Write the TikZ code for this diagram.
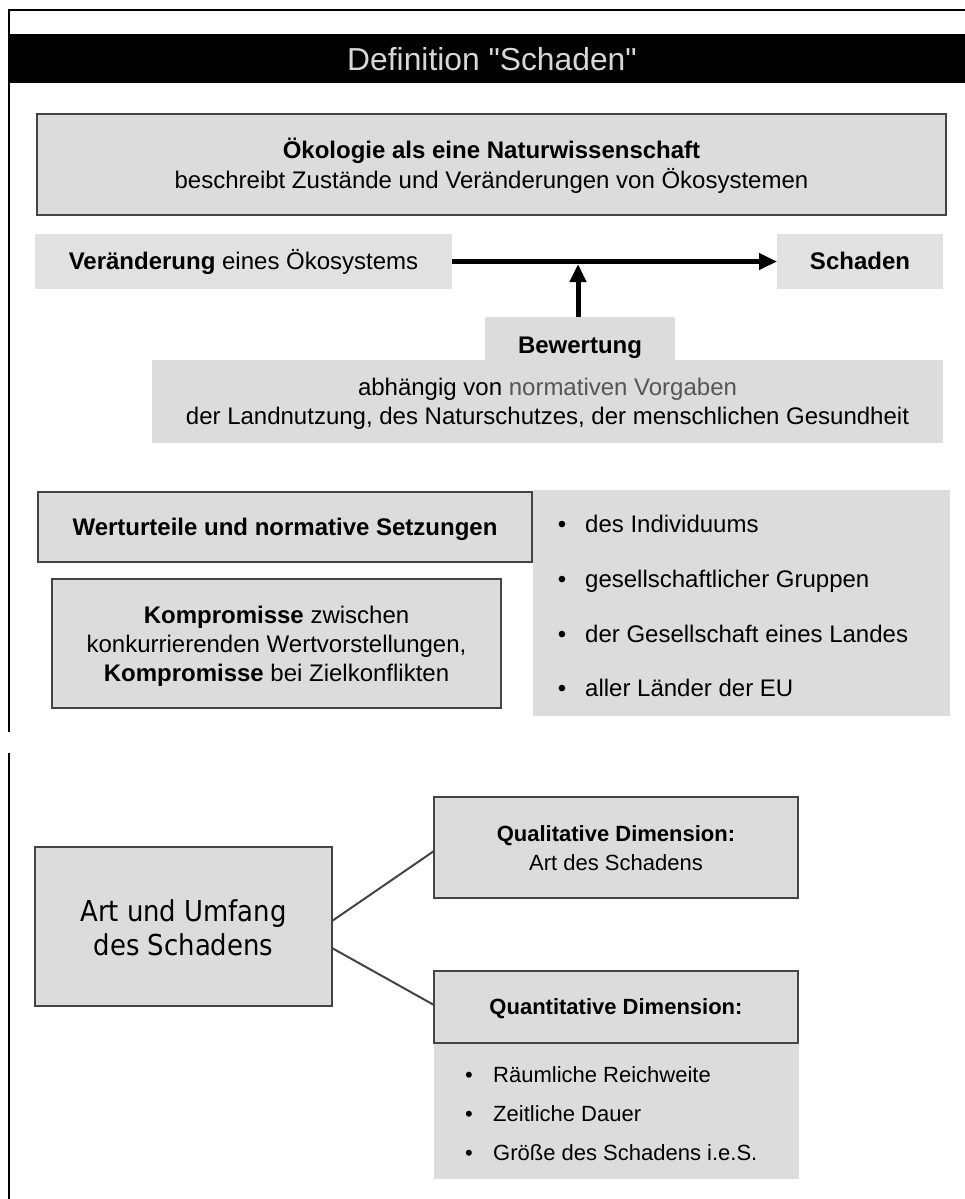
\documentclass[tikz,border=0pt]{standalone}
\usepackage{fontspec}
\setmainfont{Liberation Sans}
\newfontfamily\titlefont{Liberation Sans}[Ligatures=TeXOff]
\newfontfamily\artfont[FakeStretch=0.9]{DejaVu Sans}
\usetikzlibrary{arrows.meta}
\definecolor{boxfill}{HTML}{DCDCDC}
\definecolor{lightfill}{HTML}{E1E1E1}
\definecolor{boxline}{HTML}{444444}
\definecolor{titlegray}{HTML}{D8D8D8}
\definecolor{normgray}{HTML}{555555}

\begin{document}
\begin{tikzpicture}[x=1pt,y=-1pt,
  sized/.style 2 args={minimum width=#1pt, minimum height=#2pt, anchor=north west},
  framebox/.style={draw=boxline, line width=2.5pt, fill=boxfill, inner sep=0pt, outer sep=0pt},
  plainbox/.style={fill=boxfill, inner sep=0pt, outer sep=0pt},
  lightbox/.style={fill=lightfill, inner sep=0pt, outer sep=0pt},
  txt/.style={anchor=base, inner sep=0pt, font=\fontsize{24}{29}\selectfont},
  ltxt/.style={anchor=base west, inner sep=0pt, font=\fontsize{24}{29}\selectfont},
  stxt/.style={anchor=base, inner sep=0pt, font=\fontsize{22}{27}\selectfont},
  sltxt/.style={anchor=base west, inner sep=0pt, font=\fontsize{22}{27}\selectfont},
  arttxt/.style={anchor=base, inner sep=0pt, font=\artfont\fontsize{28.8}{34}\selectfont},
  titletxt/.style={anchor=base, inner sep=0pt, text=titlegray, font=\titlefont\fontsize{31.8}{38}\selectfont},
  bigarrow/.style={line width=5pt, -{Triangle[length=18pt, width=16pt]}},
  conn/.style={draw=boxline, line width=2pt},
  frameline/.style={draw=black, line width=2pt}
]
\path[use as bounding box] (0,0) rectangle (965,1199);

% outer frame (top edge and broken left edge)
\coordinate (ftr) at (965,10);
\coordinate (ftl) at (9,10);
\coordinate (fbreakA) at (9,732);
\coordinate (fbreakB) at (9,753);
\coordinate (fbot) at (9,1199);
\draw[frameline] (ftr) -- (ftl) -- (fbreakA);
\draw[frameline] (fbreakB) -- (fbot);

% title band
\node[fill=black, inner sep=0pt, outer sep=0pt, sized={956}{49}] (band) at (9,34) {};
\node[titletxt] (title) at (492,70.5) {Definition "Schaden"};

% ecology box
\node[framebox, sized={909}{101}] (oeko) at (37,114) {};
\node[txt] (oekoA) at (491.5,158.5) {\textbf{Ökologie als eine Naturwissenschaft}};
\node[txt] (oekoB) at (491.5,188) {beschreibt Zustände und Veränderungen von Ökosystemen};

% change -> damage
\node[lightbox, sized={417}{55}] (vera) at (35,234) {};
\node[txt] (veraT) at (243.5,269) {\textbf{Veränderung} eines Ökosystems};
\node[lightbox, sized={166}{55}] (schaden) at (777,234) {};
\node[txt] (schadenT) at (860,269) {\textbf{Schaden}};
\draw[bigarrow] (vera.east) -- (schaden.west);

% assessment
\node[plainbox, sized={190}{44}] (bewtab) at (485,317) {};
\node[plainbox, sized={791}{83}] (abh) at (152,360) {};
\node[txt] (bewT) at (580,353) {\textbf{Bewertung}};
\node[txt] (abhA) at (547.5,395) {abhängig von {\color{normgray}normativen Vorgaben}};
\node[txt] (abhB) at (547.5,424) {der Landnutzung, des Naturschutzes, der menschlichen Gesundheit};
\coordinate (joint) at (578,264);
\draw[bigarrow] (bewtab.north -| joint) -- (joint);

% value judgements
\node[plainbox, sized={417}{226}] (ebenen) at (533,490) {};
\node[framebox, sized={494}{70}] (wert) at (38,492) {};
\node[txt] (wertT) at (285,535.5) {\textbf{Werturteile und normative Setzungen}};
\node[framebox, sized={449}{129}] (komp) at (52,579) {};
\node[txt] (kompA) at (276.5,623) {\textbf{Kompromisse} zwischen};
\node[txt] (kompB) at (276.5,652) {konkurrierenden Wertvorstellungen,};
\node[txt] (kompC) at (276.5,681) {\textbf{Kompromisse} bei Zielkonflikten};

\node[txt] (eb1) at (562,532) {\textbullet};
\node[ltxt] (ebT1) at (585,532) {des Individuums};
\node[txt] (eb2) at (562,587) {\textbullet};
\node[ltxt] (ebT2) at (585,587) {gesellschaftlicher Gruppen};
\node[txt] (eb3) at (562,642) {\textbullet};
\node[ltxt] (ebT3) at (585,642) {der Gesellschaft eines Landes};
\node[txt] (eb4) at (562,696) {\textbullet};
\node[ltxt] (ebT4) at (585,696) {aller Länder der EU};

% kind and extent of damage
\node[framebox, sized={297}{159}] (art) at (35,847) {};
\node[arttxt] (artA) at (183.5,921) {Art und Umfang};
\node[arttxt] (artB) at (183.5,955) {des Schadens};

\node[framebox, sized={364}{101}] (qual) at (434,797) {};
\node[stxt] (qualA) at (616,841) {\textbf{Qualitative Dimension:}};
\node[stxt] (qualB) at (616,870) {Art des Schadens};

\node[plainbox, sized={365}{135}] (quantlist) at (434,1044) {};
\node[framebox, sized={364}{72}] (quant) at (434,971) {};
\node[stxt] (quantA) at (616,1014) {\textbf{Quantitative Dimension:}};
\node[stxt] (qb1) at (469,1082) {\textbullet};
\node[sltxt] (qT1) at (493,1082) {Räumliche Reichweite};
\node[stxt] (qb2) at (469,1121) {\textbullet};
\node[sltxt] (qT2) at (493,1121) {Zeitliche Dauer};
\node[stxt] (qb3) at (469,1160) {\textbullet};
\node[sltxt] (qT3) at (493,1160) {Größe des Schadens i.e.S.};

\draw[conn] ([yshift=5.5pt]art.east) -- ([yshift=-3.5pt]qual.west);
\draw[conn] ([yshift=-21.5pt]art.east) -- ([yshift=2pt]quant.west);
\end{tikzpicture}
\end{document}
